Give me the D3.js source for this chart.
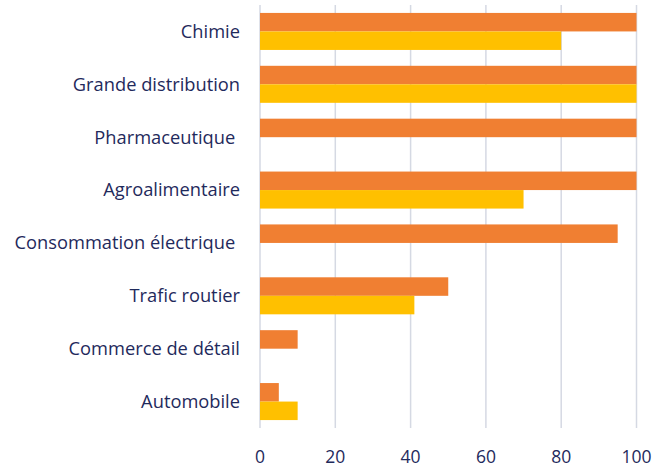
<!DOCTYPE html>
<html><head><meta charset="utf-8">
<script src="https://cdn.jsdelivr.net/npm/d3@7"></script>
<style>body{margin:0;background:#fff}</style>
</head><body>
<svg id="c" width="654" height="467"></svg>
<script>
const categories = ["Chimie","Grande distribution","Pharmaceutique ","Agroalimentaire","Consommation électrique ","Trafic routier","Commerce de détail","Automobile"];
const seriesA = [100,100,100,100,95,50,10,5];
const seriesB = [80,100,0,70,0,41,0,10];
const ticks = [0,20,40,60,80,100];

const svg = d3.select("#c");
const x = d3.scaleLinear().domain([0,100]).range([260,636.5]);
const y = d3.scaleBand().domain(categories).range([5,428]).paddingInner(0.3).paddingOuter(0.15);
const sub = d3.scaleBand().domain(["a","b"]).range([0,y.bandwidth()]);
const font = "'Open Sans', sans-serif";
const txt = "#1F2A5C";

svg.append("g").selectAll("line").data(ticks).join("line")
  .attr("x1",d=>x(d)).attr("x2",d=>x(d)).attr("y1",5).attr("y2",428)
  .attr("stroke","#D5D9E3").attr("stroke-width",1.5);

const data = categories.map((c,i)=>({c, a:seriesA[i], b:seriesB[i]}));
const g = svg.append("g");
g.selectAll(".a").data(data).join("rect").attr("class","a")
  .attr("x",x(0)).attr("y",d=>y(d.c)+sub("a")).attr("height",sub.bandwidth())
  .attr("width",d=>x(d.a)-x(0)).attr("fill","#F07F32");
g.selectAll(".b").data(data.filter(d=>d.b>0)).join("rect").attr("class","b")
  .attr("x",x(0)).attr("y",d=>y(d.c)+sub("b")).attr("height",sub.bandwidth())
  .attr("width",d=>x(d.b)-x(0)).attr("fill","#FFC000");

svg.append("g").selectAll("text").data(categories).join("text")
  .attr("x",240).attr("y",d=>y(d)+y.bandwidth()/2).attr("dy","0.35em")
  .attr("text-anchor","end").attr("fill",txt)
  .style("font-family",font).style("font-size","18.3px").style("white-space","pre")
  .text(d=>d);

svg.append("g").selectAll("text").data(ticks).join("text")
  .attr("x",d=>x(d)).attr("y",463).attr("text-anchor","middle").attr("fill",txt)
  .style("font-family",font).style("font-size","17.5px").text(d=>d);
</script>
</body></html>
